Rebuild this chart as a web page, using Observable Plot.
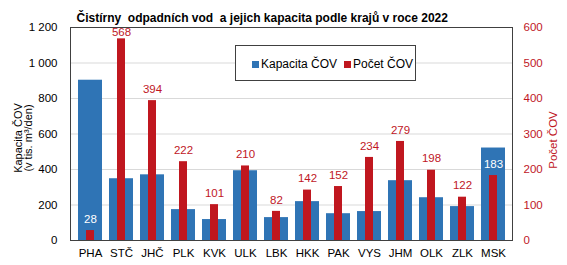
<!DOCTYPE html>
<html>
<head>
<meta charset="utf-8">
<script src="https://cdn.jsdelivr.net/npm/d3@7"></script>
<script src="https://cdn.jsdelivr.net/npm/@observablehq/plot@0.6"></script>
<style>
  html, body { margin: 0; padding: 0; background: #fff; }
  #wrap { position: relative; width: 567px; height: 265px; font-family: "Liberation Sans", Arial, sans-serif; }
  #legend { position: absolute; left: 235px; top: 45px; width: 181px; height: 36px; border: 1px solid #404040; background: #fff; box-sizing: border-box; font-size: 12px; color: #000; }
  .item { position: absolute; top: 11px; display: flex; align-items: center; }
  .sw { width: 7px; height: 7px; margin-right: 2px; }
</style>
</head>
<body>
<div id="wrap">
  <div id="chart"></div>
  <div id="legend">
    <div class="item" style="left:16px"><div class="sw" style="background:#2f74b5"></div>Kapacita ČOV</div>
    <div class="item" style="left:108px"><div class="sw" style="background:#c0171f"></div>Počet ČOV</div>
  </div>
</div>
<script>
const regions = ["PHA","STČ","JHČ","PLK","KVK","ULK","LBK","HKK","PAK","VYS","JHM","OLK","ZLK","MSK"];
const capacity = [903, 348, 370, 174, 118, 393, 129, 219, 151, 163, 337, 241, 191, 521];
const counts = [28, 568, 394, 222, 101, 210, 82, 142, 152, 234, 279, 198, 122, 183];
const leftTicks = [0, 200, 400, 600, 800, 1000, 1200];
const rightTicks = [0, 100, 200, 300, 400, 500, 600];

const blue = "#2f74b5", red = "#c0171f";
const data = regions.map((r, i) => ({region: r, cap: capacity[i], count: counts[i]}));
const fmt = d3.formatLocale({thousands: "\u00a0", grouping: [3], decimal: ","}).format(",");
const ratio = 2; // right axis (0–600) mapped onto left axis (0–1200)
const labelGap = 65; // label sits above bar, kept inside plot area

const chart = Plot.plot({
  width: 567,
  height: 265,
  marginLeft: 70,
  marginRight: 55,
  marginTop: 27,
  marginBottom: 25,
  style: {fontFamily: "Liberation Sans, Arial, sans-serif", fontSize: "11px", background: "white", color: "#000"},
  x: {domain: regions, paddingInner: 0.24, paddingOuter: 0.12, label: null},
  y: {domain: [0, 1200], label: null},
  marks: [
    Plot.gridY(leftTicks.filter(d => d > 0 && d < 1200), {stroke: "#d9d9d9", strokeOpacity: 1}),
    Plot.barY(data, {x: "region", y: "cap", fill: blue}),
    Plot.barY(data, {x: "region", y: d => d.count * ratio, fill: red, insetLeft: 8, insetRight: 8}),
    Plot.text(data, {x: "region", y: d => Math.min(d.count * ratio + labelGap, 1172), text: d => String(d.count),
      fill: d => (d.count * ratio + 80 < d.cap ? "white" : red), fontSize: 11.5}),
    Plot.frame({stroke: "#404040"}),
    Plot.axisY({ticks: leftTicks, tickFormat: fmt, tickSize: 0, tickPadding: 13, label: null, fill: "#000", fontSize: 11.5}),
    Plot.axisY({anchor: "right", ticks: leftTicks, tickFormat: d => String(d / ratio), tickSize: 0, tickPadding: 11, label: null, fill: red, fontSize: 11.5}),
    Plot.axisX({tickSize: 0, tickPadding: 8, label: null, fill: "#000", fontSize: 11.5}),
    Plot.text(["Čistírny  odpadních vod  a jejich kapacita podle krajů v roce 2022"],
      {frameAnchor: "top-left", textAnchor: "start", dx: 6, dy: -14, fontWeight: "bold", fontSize: 12, fill: "#000"}),
    Plot.text(["Kapacita ČOV\n(v tis. m³/den)"],
      {frameAnchor: "left", textAnchor: "middle", dx: -47, dy: 4, rotate: -90, fontSize: 11, fill: "#000", lineHeight: 0.95}),
    Plot.text(["Počet ČOV"],
      {frameAnchor: "right", textAnchor: "middle", dx: 41, dy: 6, rotate: -90, fontSize: 11.5, fill: red})
  ]
});
document.getElementById("chart").appendChild(chart);
</script>
</body>
</html>
